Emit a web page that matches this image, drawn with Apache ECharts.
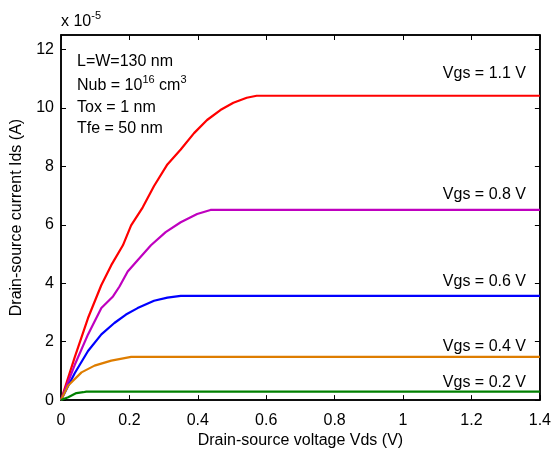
<!DOCTYPE html>
<html><head><meta charset="utf-8">
<script src="https://cdn.jsdelivr.net/npm/echarts@6/dist/echarts.min.js"></script>
<style>html,body{margin:0;padding:0;background:#fff}#c{width:554px;height:454px}</style>
</head><body><div id="c"></div>
<script>
// Values of Ids in units of 1e-5 A
const vgs11 = [[0,0],[0.04,1.46],[0.079,2.81],[0.118,3.94],[0.147,4.62],[0.181,5.3],[0.205,5.98],[0.239,6.6],[0.272,7.33],[0.311,8.07],[0.35,8.58],[0.389,9.14],[0.427,9.59],[0.466,9.93],[0.504,10.18],[0.543,10.35],[0.572,10.42],[1.4,10.42]];
const vgs08 = [[0,0],[0.04,1.2],[0.079,2.25],[0.118,3.15],[0.152,3.55],[0.171,3.89],[0.195,4.4],[0.224,4.79],[0.263,5.3],[0.306,5.75],[0.35,6.09],[0.398,6.37],[0.437,6.51],[1.4,6.51]];
const vgs06 = [[0,0],[0.04,0.92],[0.079,1.68],[0.118,2.25],[0.156,2.64],[0.19,2.93],[0.224,3.15],[0.272,3.4],[0.311,3.51],[0.35,3.57],[1.4,3.57]];
const vgs04 = [[0,0],[0.021,0.5],[0.06,0.95],[0.098,1.18],[0.147,1.35],[0.205,1.48],[1.4,1.48]];
const vgs02 = [[0,0],[0.021,0.1],[0.045,0.24],[0.065,0.27],[0.074,0.29],[1.4,0.29]];
const seriesNames = ['Vgs = 1.1 V','Vgs = 0.8 V','Vgs = 0.6 V','Vgs = 0.4 V','Vgs = 0.2 V'];
const xTicks = [0,0.2,0.4,0.6,0.8,1,1.2,1.4];
const yTicks = [0,2,4,6,8,10,12];
const xMax = 1.4, yMax = 12.5;

const colors = ['#ff0000','#bf00bf','#0000ff','#de7d00','#008000'];
const datas = [vgs11,vgs08,vgs06,vgs04,vgs02];
const F = 'Liberation Sans, Arial, sans-serif';
const FS = 16;
const chart = echarts.init(document.getElementById('c'));
const axisCommon = () => ({
  axisLine:{show:true,onZero:false,lineStyle:{color:'#000',width:1.5}},
  axisTick:{show:true,inside:true,length:5,lineStyle:{color:'#000',width:1}},
  splitLine:{show:false}
});
const series = datas.map((d,i)=>({
  type:'line', name:seriesNames[i], data:d, showSymbol:false, symbol:'none',
  xAxisIndex:0, yAxisIndex:0,
  lineStyle:{color:colors[i],width:2.2}, itemStyle:{color:colors[i]}, animation:false
}));
const labelY = [74,195,282,347,383];
const texts = [
  {type:'text',x:61,y:22,style:{text:'x 10{s|-5}',fontFamily:F,fontSize:FS,fill:'#000',verticalAlign:'middle',
    rich:{s:{fontFamily:F,fontSize:11,padding:[0,0,12,0]}}}},
  {type:'text',x:77,y:62,style:{text:'L=W=130 nm',fontFamily:F,fontSize:FS,fill:'#000',verticalAlign:'middle'}},
  {type:'text',x:77,y:86,style:{text:'Nub = 10{s|16} cm{s|3}',fontFamily:F,fontSize:FS,fill:'#000',verticalAlign:'middle',
    rich:{s:{fontFamily:F,fontSize:11,padding:[0,0,12,0]}}}},
  {type:'text',x:77,y:108,style:{text:'Tox = 1 nm',fontFamily:F,fontSize:FS,fill:'#000',verticalAlign:'middle'}},
  {type:'text',x:77,y:129,style:{text:'Tfe = 50 nm',fontFamily:F,fontSize:FS,fill:'#000',verticalAlign:'middle'}}
].concat(seriesNames.map((n,i)=>({type:'text',x:526,y:labelY[i],
    style:{text:n,fontFamily:F,fontSize:FS,fill:'#000',align:'right',verticalAlign:'middle'}})));
chart.setOption({
  animation:false,
  grid:{left:61,right:10,top:35,bottom:50,show:true,borderColor:'#000',borderWidth:1.5},
  xAxis:[
    Object.assign({type:'value',min:0,max:xMax,interval:0.2,position:'bottom',
      name:'Drain-source voltage Vds (V)',nameLocation:'middle',nameGap:32,
      nameTextStyle:{fontFamily:F,fontSize:FS,color:'#000'},
      axisLabel:{fontFamily:F,fontSize:FS,color:'#000',margin:12,formatter:v=>String(+v.toFixed(1))}},axisCommon()),
    Object.assign({type:'value',min:0,max:xMax,interval:0.2,position:'top',
      axisLabel:{show:true,color:'rgba(0,0,0,0)',fontSize:1}},axisCommon())
  ],
  yAxis:[
    Object.assign({type:'value',min:0,max:yMax,interval:2,position:'left',
      name:'Drain-source current Ids (A)',nameLocation:'middle',nameGap:36,
      nameTextStyle:{fontFamily:F,fontSize:FS,color:'#000'},
      axisLabel:{fontFamily:F,fontSize:FS,color:'#000',margin:7,showMaxLabel:false}},axisCommon()),
    Object.assign({type:'value',min:0,max:yMax,interval:2,position:'right',
      axisLabel:{show:true,color:'rgba(0,0,0,0)',fontSize:1}},axisCommon())
  ],
  series:series,
  graphic:texts
});
</script></body></html>
